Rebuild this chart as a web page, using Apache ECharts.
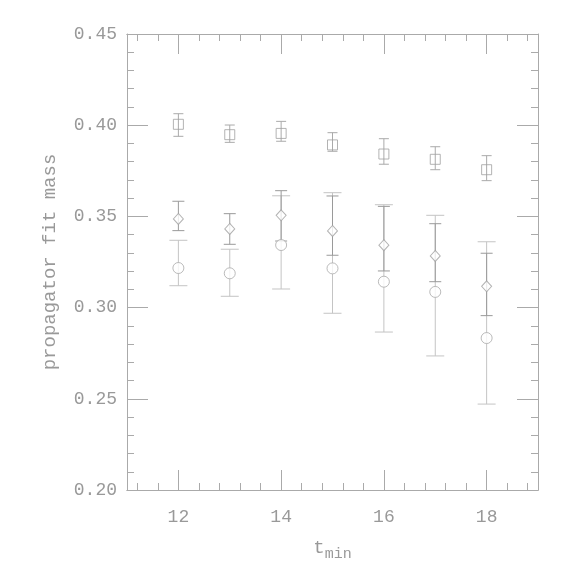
<!DOCTYPE html>
<html>
<head>
<meta charset="utf-8">
<script src="https://cdn.jsdelivr.net/npm/echarts@6/dist/echarts.min.js"></script>
<style>
  html, body { margin: 0; padding: 0; background: #fff; }
  #chart { width: 575px; height: 575px; }
</style>
</head>
<body>
<div id="chart"></div>
<script>
// t_min positions
const tmin = [12, 13, 14, 15, 16, 17, 18]

// squares: value, lower, upper
const sqVal  = [0.4005, 0.3948, 0.3955, 0.3892, 0.3842, 0.3813, 0.3756]
const sqLow  = [0.3939, 0.3906, 0.3912, 0.3857, 0.3786, 0.3756, 0.3696]
const sqHigh = [0.4063, 0.4001, 0.4021, 0.3959, 0.3926, 0.3882, 0.3833]

// diamonds
const dmVal  = [0.3486, 0.3431, 0.3506, 0.3420, 0.3342, 0.3283, 0.3117]
const dmLow  = [0.3422, 0.3347, 0.3365, 0.3287, 0.3201, 0.3142, 0.2956]
const dmHigh = [0.3583, 0.3515, 0.3641, 0.3612, 0.3555, 0.3460, 0.3298]

// circles
const ciVal  = [0.3217, 0.3188, 0.3343, 0.3215, 0.3142, 0.3086, 0.2833]
const ciLow  = [0.3120, 0.3062, 0.3102, 0.2969, 0.2866, 0.2735, 0.2471]
const ciHigh = [0.3369, 0.3320, 0.3613, 0.3630, 0.3564, 0.3506, 0.3361]

// axis ticks
const xMajor = [12, 14, 16, 18]
const xMinor = [11.2, 11.6, 12.4, 12.8, 13.2, 13.6, 14.4, 14.8, 15.2, 15.6,
                16.4, 16.8, 17.2, 17.6, 18.4, 18.8]

const AXIS = '#aaaaaa'
const TEXT = '#999999'
const FONT = "'Liberation Mono', 'DejaVu Sans Mono', monospace"

function points(vals) {
  return tmin.map((t, i) => [t, vals[i]])
}
function bars(lo, hi) {
  return tmin.map((t, i) => [t, lo[i], hi[i]])
}

// error bar with caps, half cap width in px
function errorBar(name, lo, hi, color, half) {
  return {
    name, type: 'custom', data: bars(lo, hi), z: 2,
    encode: { x: 0, y: [1, 2] },
    renderItem: function (params, api) {
      const x = api.value(0)
      const p1 = api.coord([x, api.value(1)])
      const p2 = api.coord([x, api.value(2)])
      const st = { stroke: color, lineWidth: 1 }
      return {
        type: 'group',
        children: [
          { type: 'line', shape: { x1: p1[0], y1: p1[1], x2: p2[0], y2: p2[1] }, style: st },
          { type: 'line', shape: { x1: p1[0] - half, y1: p1[1], x2: p1[0] + half, y2: p1[1] }, style: st },
          { type: 'line', shape: { x1: p2[0] - half, y1: p2[1], x2: p2[0] + half, y2: p2[1] }, style: st }
        ]
      }
    }
  }
}

function marker(name, vals, symbol, size, color, fill) {
  return {
    name, type: 'scatter', data: points(vals), symbol, symbolSize: size, z: 3,
    itemStyle: { color: fill, borderColor: color, borderWidth: 1 }
  }
}

function xAx(pos, ticks, len, withLabel) {
  return {
    type: 'value', position: pos, min: 11, max: 19,
    axisLine: { show: true, lineStyle: { color: AXIS } },
    axisTick: { show: true, inside: true, length: len, customValues: ticks, lineStyle: { color: AXIS } },
    axisLabel: withLabel
      ? { show: true, customValues: xMajor, margin: 18, color: TEXT, fontSize: 18, fontFamily: FONT }
      : { show: false },
    splitLine: { show: false }
  }
}

function yAx(pos, withLabel) {
  return {
    type: 'value', position: pos, min: 0.2, max: 0.45, interval: 0.05,
    axisLine: { show: true, lineStyle: { color: AXIS } },
    axisTick: { show: true, inside: true, length: 21, lineStyle: { color: AXIS } },
    minorTick: { show: true, splitNumber: 5, length: 7, lineStyle: { color: AXIS } },
    axisLabel: withLabel
      ? { show: true, margin: 10, color: TEXT, fontSize: 18, fontFamily: FONT, formatter: v => v.toFixed(2) }
      : { show: false },
    splitLine: { show: false },
    minorSplitLine: { show: false }
  }
}

const chart = echarts.init(document.getElementById('chart'), null, { renderer: 'canvas' })

const xMain = xAx('bottom', xMajor, 20, true)
xMain.name = '{t|t}{s|min}'
xMain.nameLocation = 'middle'
xMain.nameGap = 43
xMain.nameTextStyle = {
  color: TEXT, fontFamily: FONT,
  rich: {
    t: { fontSize: 19, fontFamily: FONT, color: TEXT },
    s: { fontSize: 15, fontFamily: FONT, color: TEXT, padding: [14, 0, 0, 0] }
  }
}

const yMain = yAx('left', true)
yMain.name = 'propagator fit mass'
yMain.nameLocation = 'middle'
yMain.nameGap = 68
yMain.nameTextStyle = { color: TEXT, fontSize: 19, fontFamily: FONT }

chart.setOption({
  backgroundColor: '#fff',
  animation: false,
  grid: { left: 127, right: 37, top: 34, bottom: 85 },
  xAxis: [
    xMain,
    xAx('bottom', xMinor, 7, false),
    xAx('top', xMajor, 20, false),
    xAx('top', xMinor, 7, false)
  ],
  yAxis: [yMain, yAx('right', false)],
  series: [
    errorBar('sq-err', sqLow, sqHigh, '#aaaaaa', 5),
    errorBar('ci-err', ciLow, ciHigh, '#c4c4c4', 9),
    errorBar('dm-err', dmLow, dmHigh, '#9a9a9a', 6),
    marker('squares', sqVal, 'rect', 10, '#a0a0a0', 'rgba(255,255,255,0)'),
    marker('diamonds', dmVal, 'diamond', [10, 11], '#a0a0a0', '#fff'),
    marker('circles', ciVal, 'circle', 11, '#aaaaaa', '#fff')
  ]
})
</script>
</body>
</html>
